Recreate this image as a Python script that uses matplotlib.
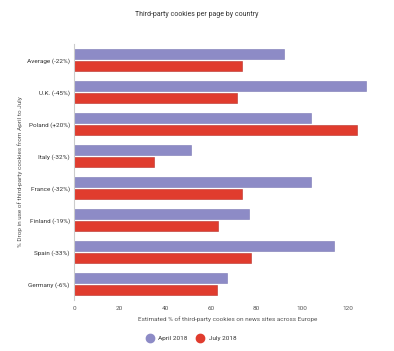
import matplotlib
matplotlib.use("Agg")
import matplotlib.pyplot as plt
from matplotlib.lines import Line2D
import numpy as np

plt.rcParams['font.family'] = ['Roboto', 'DejaVu Sans']

categories = ["Average (-22%)", "U.K. (-45%)", "Poland (+20%)", "Italy (-32%)",
              "France (-32%)", "Finland (-19%)", "Spain (-33%)", "Germany (-6%)"]
april_2018 = [92, 128, 104, 51.5, 104, 76.5, 114, 67]
july_2018 = [73.5, 71.5, 124, 35, 73.5, 63, 77.5, 62.5]
xticks = [0, 20, 40, 60, 80, 100, 120]

W, H = 394, 351
fig = plt.figure(figsize=(W / 100, H / 100), dpi=100)
left, right, top, bottom = 74, 382, 44, 300
ax = fig.add_axes([left / W, 1 - bottom / H, (right - left) / W, (bottom - top) / H])

purple = '#8d8bc6'
red = '#e03c2e'
fs = 4.6
y = np.arange(len(categories))
bh = 0.31
ax.barh(y - 0.2, april_2018, height=bh, color=purple, edgecolor='#7a78b5', linewidth=0.4)
ax.barh(y + 0.2, july_2018, height=bh, color=red, edgecolor='#b8302a', linewidth=0.4)

ax.set_ylim(len(categories) - 0.5, -0.5)
ax.set_xlim(0, 135)
ax.set_yticks(y)
ax.set_yticklabels(categories, fontsize=fs, color='#333333')
ax.set_xticks(xticks)
ax.set_xticklabels([str(t) for t in xticks], fontsize=fs, color='#555555')
ax.tick_params(axis='x', length=0, pad=4)
ax.tick_params(axis='y', length=0, pad=3)
for s in ['top', 'right', 'bottom']:
    ax.spines[s].set_visible(False)
ax.spines['left'].set_color('#cccccc')
ax.spines['left'].set_linewidth(0.8)

ax.set_xlabel("Estimated % of third-party cookies on news sites across Europe",
              fontsize=fs, color='#555555', labelpad=4)
fig.text(20 / W, 1 - 172 / H, "% Drop in use of third-party cookies from April to July",
         rotation=90, fontsize=fs, color='#555555', ha='center', va='center')
fig.text(197 / W, 1 - 15 / H, "Third-party cookies per page by country",
         fontsize=5, color='#333333', ha='center', va='center')

handles = [Line2D([], [], marker='o', linestyle='none', markersize=6, color=purple, label='April 2018'),
           Line2D([], [], marker='o', linestyle='none', markersize=6, color=red, label='July 2018')]
fig.legend(handles=handles, loc='center', bbox_to_anchor=(190 / W, 1 - 338 / H), ncol=2,
           frameon=False, fontsize=fs, handletextpad=0.3, columnspacing=1.0,
           labelcolor='#333333')

fig.savefig("out.png", dpi=100)
